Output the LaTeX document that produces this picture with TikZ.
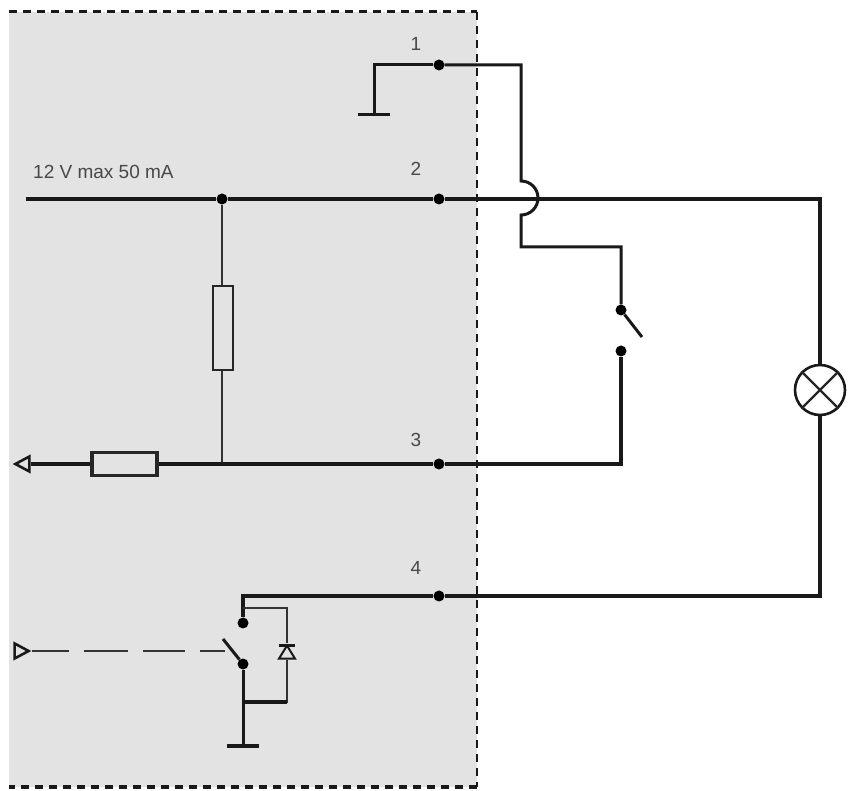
\documentclass[tikz,border=0pt]{standalone}
\usepackage{fontspec}
\setmainfont{Liberation Sans}
\usetikzlibrary{shapes.geometric}
\definecolor{housing}{HTML}{E3E3E3}
\definecolor{labelgray}{HTML}{484848}
\tikzset{
    wire/.style={line width=3pt,black!90},
    mainwire/.style={line width=3.2pt,black!90},
    thinwire/.style={line width=2.2pt,black!80},
    pin/.style={circle,fill=black,inner sep=0pt,minimum size=11pt},
    dotsmall/.style={circle,fill=black,inner sep=0pt,minimum size=11pt},
    lbl/.style={text=labelgray,font=\fontsize{19}{23}\selectfont,inner sep=0pt},
    border/.style={black!90,dash pattern=on 8pt off 6pt},
    earth/.style={line width=3.6pt,black!90},
    tri/.style={isosceles triangle,isosceles triangle stretches,draw=black!90,line width=2.6pt,
        inner sep=0pt,minimum width=15pt,minimum height=14pt},
    resbox/.style={rectangle,draw=black!85,inner sep=0pt}
}
\begin{document}
\begin{tikzpicture}[x=1pt,y=1pt]
    \useasboundingbox (0,0) rectangle (851,790);
    \fill[housing] (9,3) rectangle (477,778);
    \draw[border,line width=3pt] (9,778) -- (477,778);
    \draw[border,line width=2.2pt] (477,778) -- (477,3);
    \draw[border,line width=3.4pt] (477,3) -- (9,3);

    % pins
    \node[pin] (pinA) at (439,725) {};
    \node[pin] (pinB) at (439,591) {};
    \node[pin] (pinC) at (439,326) {};
    \node[pin] (pinD) at (439,194) {};
    \node[lbl] (lblA) at (416,746) {1};
    \node[lbl] (lblB) at (416,621) {2};
    \node[lbl] (lblC) at (416,350) {3};
    \node[lbl] (lblD) at (416,222) {4};
    \node[lbl,anchor=west] (lblV) at (33,618) {12 V max 50 mA};

    % pin 1, external switch
    \coordinate (gndA) at (374,675);
    \coordinate (cornerA) at (521,725);
    \coordinate (hopTop) at (521,609);
    \coordinate (cornerB) at (521,543);
    \coordinate (swEnd) at (642,453);
    \node[dotsmall] (swTop) at (621,480) {};
    \node[dotsmall] (swBot) at (621,439) {};
    \draw[wire] (gndA) |- (pinA);
    \draw[earth,line width=3pt] (358,675) -- (390,675);
    \draw[wire] (pinA) -- (cornerA) -- (hopTop) arc[start angle=90,end angle=-90,radius=17] -- (cornerB) -| (swTop);
    \draw[wire] (swTop) -- (swEnd);
    \draw[mainwire] (swBot) |- (pinC);

    % supply line and lamp
    \coordinate (supply) at (26,591);
    \coordinate (lampCorner) at (820,591);
    \coordinate (returnCorner) at (820,194);
    \node[circle,draw=black!90,line width=2.6pt,fill=white,inner sep=0pt,minimum size=50pt] (lamp) at (820,400) {};
    \node[dotsmall] (tap) at (222,591) {};
    \draw[mainwire] (supply) -- (tap) -- (pinB) -- (lampCorner) -- (lamp);
    \draw[line width=2.2pt,black!85] (lamp.45) -- (lamp.225);
    \draw[line width=2.2pt,black!85] (lamp.135) -- (lamp.315);
    \draw[mainwire] (lamp) -- (returnCorner) -- (pinD);

    % pull-up
    \node[resbox,line width=2pt,minimum width=20pt,minimum height=84pt] (pullup) at (223,462) {};
    \draw[thinwire] (tap) -- (pullup.north -| tap);
    \coordinate (tapLow) at (222,326);
    \draw[thinwire] (pullup.south -| tap) -- (tapLow);

    % output
    \node[resbox,line width=3.6pt,minimum width=65pt,minimum height=23pt] (series) at (124.5,326) {};
    \node[tri,shape border rotate=180,anchor=apex] (outTri) at (12,326) {};
    \draw[mainwire] (outTri) -- (series);
    \draw[mainwire] (series) -- (pinC);

    % relay
    \coordinate (topRelay) at (243,194);
    \coordinate (diodeTop) at (243,182);
    \coordinate (gndB) at (243,44);
    \coordinate (joinB) at (243,88);
    \coordinate (leverEnd) at (223,151);
    \coordinate (dashEnd) at (225,139);
    \node[dotsmall] (relayTop) at (243,167) {};
    \node[dotsmall] (relayBot) at (243,126) {};
    \node[tri,line width=2pt,minimum width=16pt,minimum height=13pt,shape border rotate=90,anchor=apex] (diode) at (287,147) {};
    \draw[mainwire] (pinD) -- (topRelay) -- (relayTop);
    \draw[thinwire] (diodeTop) -| (diode);
    \draw[thinwire] (diode) |- (joinB);
    \draw[mainwire] (joinB) -- ++(44,0);
    \draw[line width=3pt,black!90] (279,145) -- (295,145);
    \draw[wire] (relayBot) -- (leverEnd);
    \draw[wire] (relayBot) -- (gndB);
    \draw[earth] (227,44) -- (259,44);

    % control input
    \node[tri,anchor=apex] (inTri) at (32,139) {};
    \draw[thinwire,dash pattern=on 37pt off 15pt on 44pt off 15pt on 42pt off 15pt] (inTri.apex) -- (dashEnd);
\end{tikzpicture}
\end{document}
